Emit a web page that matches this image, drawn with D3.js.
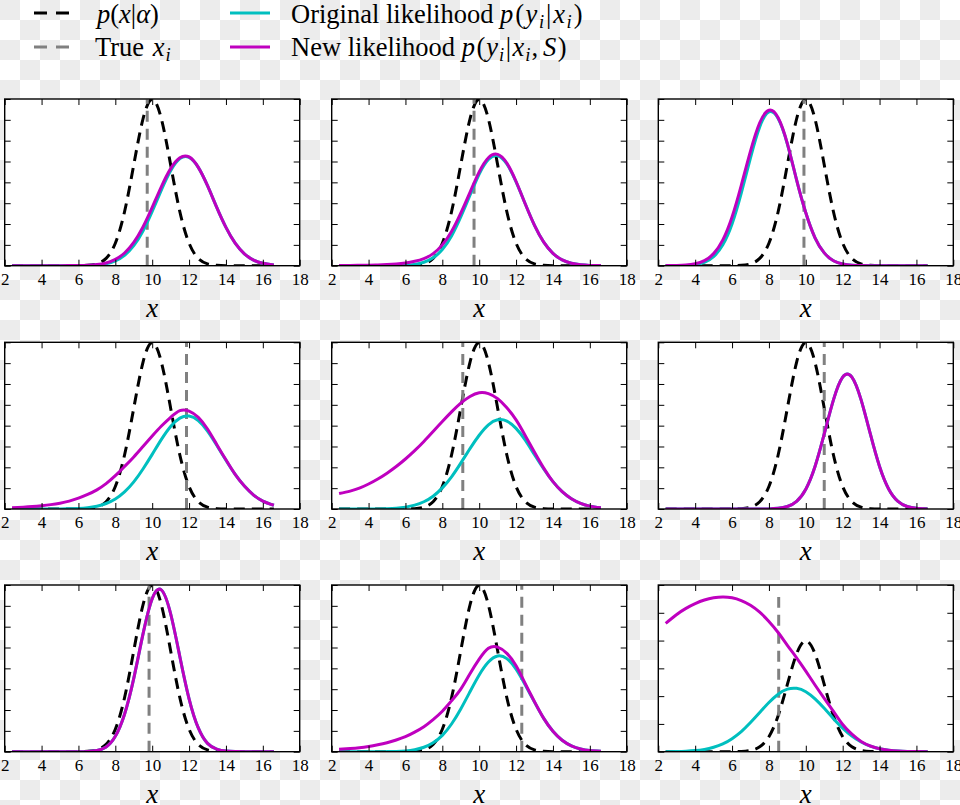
<!DOCTYPE html>
<html><head><meta charset="utf-8">
<script src="https://cdn.jsdelivr.net/npm/d3@7"></script>
<style>body{margin:0;background:#fff}svg{display:block}</style>
</head><body>
<svg id="chart" width="960" height="805"></svg>
<script>
// ---------- data ----------
const xs = [2.4,3,3.5,4,4.5,5,5.5,6,6.5,7,7.5,8,8.5,9,9.5,10,10.5,11,11.5,12,12.5,13,13.5,14,14.5,15,15.5,16,16.6];
const xTicks = [2,4,6,8,10,12,14,16,18];
const prior = [0,0,0,0,0,0,0,0.0001,0.0009,0.0044,0.0175,0.054,0.1295,0.242,0.352,0.399,0.352,0.242,0.1295,0.054,0.0175,0.0044,0.0009,0.0001,0,0,0,0,0];
const trueX = [9.73,9.72,9.90,11.86,9.11,11.0,9.83,12.31,8.53];
const yTop  = [0.4,0.4,0.4,0.4,0.4,0.4,0.4,0.4,0.6];
const yStep = [0.05,0.05,0.05,0.05,0.05,0.05,0.05,0.05,0.1];

const orig1 = [0,0,0,0,0,0,0.0001,0.0002,0.0006,0.0018,0.0048,0.0115,0.0249,0.048,0.0833,0.130,0.182,0.228,0.257,0.260,0.236,0.192,0.140,0.092,0.054,0.0286,0.0135,0.0057,0.0018];
const new1  = [0,0,0,0,0.0001,0.0001,0.0002,0.0004,0.0010,0.0027,0.0066,0.0150,0.0305,0.056,0.093,0.140,0.190,0.233,0.259,0.261,0.236,0.192,0.140,0.092,0.054,0.0286,0.0135,0.0057,0.0018];
const orig2 = [0,0,0,0,0,0.0001,0.0003,0.0011,0.0032,0.0082,0.0188,0.0387,0.0713,0.117,0.169,0.220,0.255,0.264,0.244,0.201,0.148,0.0968,0.0564,0.0297,0.0138,0.0057,0.0021,0.0007,0.0002];
const new2  = [0.0004,0.0006,0.0009,0.0013,0.0019,0.0028,0.0042,0.0065,0.0105,0.017,0.029,0.050,0.082,0.126,0.176,0.225,0.259,0.267,0.246,0.202,0.148,0.0968,0.0564,0.0297,0.0138,0.0057,0.0021,0.0007,0.0002];
const orig3 = [0,0.0002,0.0007,0.0026,0.008,0.0218,0.050,0.100,0.174,0.259,0.333,0.369,0.353,0.292,0.206,0.127,0.067,0.0307,0.0119,0.0041,0.0012,0.0003,0.0001,0,0,0,0,0,0];
const new3  = [0.0002,0.0006,0.0016,0.0045,0.012,0.029,0.062,0.117,0.193,0.275,0.343,0.373,0.355,0.293,0.206,0.127,0.067,0.0307,0.0119,0.0041,0.0012,0.0003,0.0001,0,0,0,0,0,0];
const orig4 = [0,0,0,0,0.0001,0.0002,0.0006,0.0014,0.0031,0.0067,0.0132,0.024,0.041,0.065,0.096,0.131,0.167,0.198,0.218,0.223,0.212,0.187,0.153,0.117,0.083,0.055,0.0335,0.0191,0.0089];
const new4  = [0.003,0.0045,0.006,0.008,0.0105,0.014,0.019,0.026,0.035,0.046,0.061,0.080,0.102,0.125,0.150,0.175,0.199,0.220,0.236,0.235,0.220,0.192,0.155,0.118,0.083,0.055,0.0335,0.0191,0.0089];
const orig5 = [0,0,0,0,0.0003,0.0009,0.002,0.0045,0.0092,0.0174,0.0307,0.0507,0.0772,0.110,0.145,0.177,0.202,0.214,0.211,0.1935,0.165,0.130,0.096,0.0656,0.0417,0.0247,0.0136,0.0069,0.0028];
const new5  = [0.037,0.043,0.050,0.060,0.072,0.086,0.102,0.120,0.140,0.162,0.186,0.210,0.233,0.254,0.270,0.279,0.277,0.265,0.243,0.214,0.176,0.136,0.098,0.0656,0.0417,0.0247,0.0136,0.0069,0.0028];
const orig6 = [0,0,0,0,0,0,0,0,0,0,0.0001,0.0003,0.0016,0.0059,0.0185,0.0476,0.102,0.180,0.262,0.3165,0.3165,0.262,0.180,0.102,0.0476,0.0185,0.0059,0.0016,0.0002];
const new6  = [0,0,0,0,0,0,0,0,0,0,0.0001,0.0003,0.0016,0.0059,0.0185,0.0476,0.102,0.180,0.262,0.3165,0.3165,0.262,0.180,0.102,0.0476,0.0185,0.0059,0.0016,0.0002];
const orig7 = [0,0,0,0,0,0,0,0.0001,0.0006,0.003,0.0115,0.037,0.090,0.176,0.282,0.367,0.388,0.331,0.228,0.127,0.057,0.020,0.006,0.0014,0.0003,0,0,0,0];
const new7  = [0,0,0,0,0,0,0,0.0001,0.0006,0.003,0.0115,0.037,0.090,0.176,0.282,0.367,0.388,0.331,0.228,0.127,0.057,0.020,0.006,0.0014,0.0003,0,0,0,0];
const orig8 = [0,0,0,0,0,0.0002,0.0007,0.0019,0.0047,0.0106,0.0214,0.0393,0.0665,0.1026,0.1438,0.184,0.215,0.2296,0.2233,0.198,0.160,0.119,0.080,0.049,0.0275,0.0141,0.0065,0.0028,0.0009];
const new8  = [0.0056,0.0075,0.0095,0.0125,0.0165,0.0215,0.028,0.036,0.047,0.060,0.077,0.097,0.122,0.150,0.187,0.222,0.248,0.251,0.236,0.206,0.163,0.120,0.080,0.049,0.0275,0.0141,0.0065,0.0028,0.0009];
const orig9 = [0.0002,0.0008,0.0018,0.0039,0.0082,0.0158,0.028,0.047,0.0724,0.105,0.141,0.177,0.207,0.225,0.228,0.216,0.190,0.156,0.119,0.0848,0.056,0.0348,0.020,0.0108,0.0054,0.0025,0.0011,0.0004,0.0001];
const new9  = [0.462,0.494,0.516,0.533,0.546,0.554,0.557,0.554,0.544,0.527,0.502,0.469,0.429,0.383,0.338,0.290,0.240,0.192,0.145,0.098,0.063,0.037,0.0205,0.0108,0.0054,0.0025,0.0011,0.0004,0.0001];

const origLik = [orig1,orig2,orig3,orig4,orig5,orig6,orig7,orig8,orig9];
const newLik  = [new1,new2,new3,new4,new5,new6,new7,new8,new9];

// ---------- layout / style ----------
const SERIF = '"Liberation Serif","Times New Roman",serif';
const CYAN = '#00bfbf', MAG = '#bf00bf', GRAY = '#808080';
const colX = [4.7, 331.7, 658.3], rowY = [99, 342.3, 585];
const W = 295, H = 166.7;
const DASH = '11,7';

const svg = d3.select('#chart');
const defs = svg.append('defs');
const pat = defs.append('pattern').attr('id','checker').attr('patternUnits','userSpaceOnUse')
  .attr('width',40).attr('height',40);
pat.append('rect').attr('width',40).attr('height',40).attr('fill','#ffffff');
pat.append('rect').attr('width',20).attr('height',20).attr('fill','#ececec');
pat.append('rect').attr('x',20).attr('y',20).attr('width',20).attr('height',20).attr('fill','#ececec');
svg.append('rect').attr('width',960).attr('height',805).attr('fill','url(#checker)');

// ---------- legend ----------
function rich(sel, x, y, size, segs) {
  const t = sel.append('text').attr('x', x).attr('y', y)
    .attr('font-family', SERIF).attr('font-size', size).attr('fill', '#000');
  let shifted = false;
  segs.forEach(s => {
    const sp = t.append('tspan').text(s.t);
    let dy = 0;
    if (s.i) sp.attr('font-style', 'italic');
    if (s.m) sp.attr('dx', s.m);
    if (s.sub) {
      sp.attr('font-size', size * 0.7);
      if (!shifted) { dy = size * 0.2; shifted = true; }
    } else if (shifted) { dy = -size * 0.2; shifted = false; }
    if (dy) sp.attr('dy', dy);
  });
  return t;
}
const leg = svg.append('g');
const LS = 26.5;
const legItems = [
  {x1:34, len:35, y:13, color:'#000', dash:'13,9', tx:97, ty:23,
   segs:[{t:'p',i:1},{t:'('},{t:'x',i:1},{t:'|'},{t:'α',i:1},{t:')'}]},
  {x1:34, len:35, y:47, color:GRAY, dash:'13,9', tx:95, ty:56,
   segs:[{t:'True '},{t:'x',i:1,m:2},{t:'i',i:1,sub:1,m:1}]},
  {x1:230, len:40, y:13, color:CYAN, dash:null, tx:291, ty:23,
   segs:[{t:'Original likelihood '},{t:'p',i:1},{t:'(',m:2},{t:'y',i:1,m:1.5},{t:'i',i:1,sub:1,m:1.5},{t:'|',m:2},{t:'x',i:1,m:2},{t:'i',i:1,sub:1,m:1.5},{t:')',m:2}]},
  {x1:230, len:40, y:47, color:MAG, dash:null, tx:291, ty:56,
   segs:[{t:'New likelihood '},{t:'p',i:1},{t:'(',m:1.5},{t:'y',i:1,m:1},{t:'i',i:1,sub:1,m:1},{t:'|',m:1.5},{t:'x',i:1,m:1.5},{t:'i',i:1,sub:1,m:1},{t:',',m:1},{t:'S',i:1,m:5},{t:')',m:1.5}]}
];
legItems.forEach(d => {
  const l = leg.append('line').attr('x1', d.x1).attr('x2', d.x1 + d.len)
    .attr('y1', d.y).attr('y2', d.y).attr('stroke', d.color).attr('stroke-width', 3.2);
  if (d.dash) l.attr('stroke-dasharray', d.dash);
  rich(leg, d.tx, d.ty, LS, d.segs);
});

// ---------- panels ----------
for (let i = 0; i < 9; i++) {
  const r = Math.floor(i / 3), c = i % 3;
  const g = svg.append('g').attr('transform', `translate(${colX[c]},${rowY[r]})`);
  const x = d3.scaleLinear().domain([2, 18]).range([0, W]);
  const y = d3.scaleLinear().domain([0, yTop[i]]).range([H, 0]);

  const cid = 'clip' + i;
  defs.append('clipPath').attr('id', cid).append('rect').attr('width', W).attr('height', H);
  g.append('rect').attr('width', W).attr('height', H).attr('fill', '#fff');

  const plot = g.append('g').attr('clip-path', `url(#${cid})`);
  const line = d3.line().x((d, k) => x(xs[k])).y(d => y(d)).curve(d3.curveNatural);

  plot.append('path').attr('d', line(prior)).attr('fill', 'none')
    .attr('stroke', '#000').attr('stroke-width', 3).attr('stroke-dasharray', DASH);
  const vmax = d3.max([d3.max(prior), d3.max(origLik[i]), d3.max(newLik[i])]);
  plot.append('line').attr('x1', x(trueX[i])).attr('x2', x(trueX[i]))
    .attr('y1', y(0)).attr('y2', y(vmax)).attr('stroke', GRAY)
    .attr('stroke-width', 3).attr('stroke-dasharray', DASH);
  plot.append('path').attr('d', line(origLik[i])).attr('fill', 'none')
    .attr('stroke', CYAN).attr('stroke-width', 3);
  plot.append('path').attr('d', line(newLik[i])).attr('fill', 'none')
    .attr('stroke', MAG).attr('stroke-width', 3);

  const yTicks = d3.range(0, yTop[i] + 1e-9, yStep[i]);
  const styleAxis = a => { a.select('.domain').remove(); a.selectAll('.tick line').attr('stroke', '#000').attr('stroke-width', 1); };

  const ax = g.append('g').attr('transform', `translate(0,${H})`)
    .call(d3.axisBottom(x).tickValues(xTicks).tickSizeInner(-6).tickSizeOuter(0).tickPadding(7.2).tickFormat(d3.format('d')));
  styleAxis(ax);
  ax.attr('font-family', SERIF).attr('font-size', 17);
  ax.selectAll('.tick text').attr('font-family', SERIF).attr('font-size', 17).attr('fill', '#000');
  g.append('g').call(d3.axisTop(x).tickValues(xTicks).tickSizeInner(-6).tickSizeOuter(0).tickFormat('')).call(styleAxis);
  g.append('g').call(d3.axisLeft(y).tickValues(yTicks).tickSizeInner(-6).tickSizeOuter(0).tickFormat('')).call(styleAxis);
  g.append('g').attr('transform', `translate(${W},0)`)
    .call(d3.axisRight(y).tickValues(yTicks).tickSizeInner(-6).tickSizeOuter(0).tickFormat('')).call(styleAxis);

  g.append('rect').attr('width', W).attr('height', H).attr('fill', 'none')
    .attr('stroke', '#000').attr('stroke-width', 1.4);

  g.append('text').attr('x', W / 2).attr('y', H + 51).attr('text-anchor', 'middle')
    .attr('font-family', SERIF).attr('font-style', 'italic').attr('font-size', 27).text('x');
}
</script>
</body></html>
